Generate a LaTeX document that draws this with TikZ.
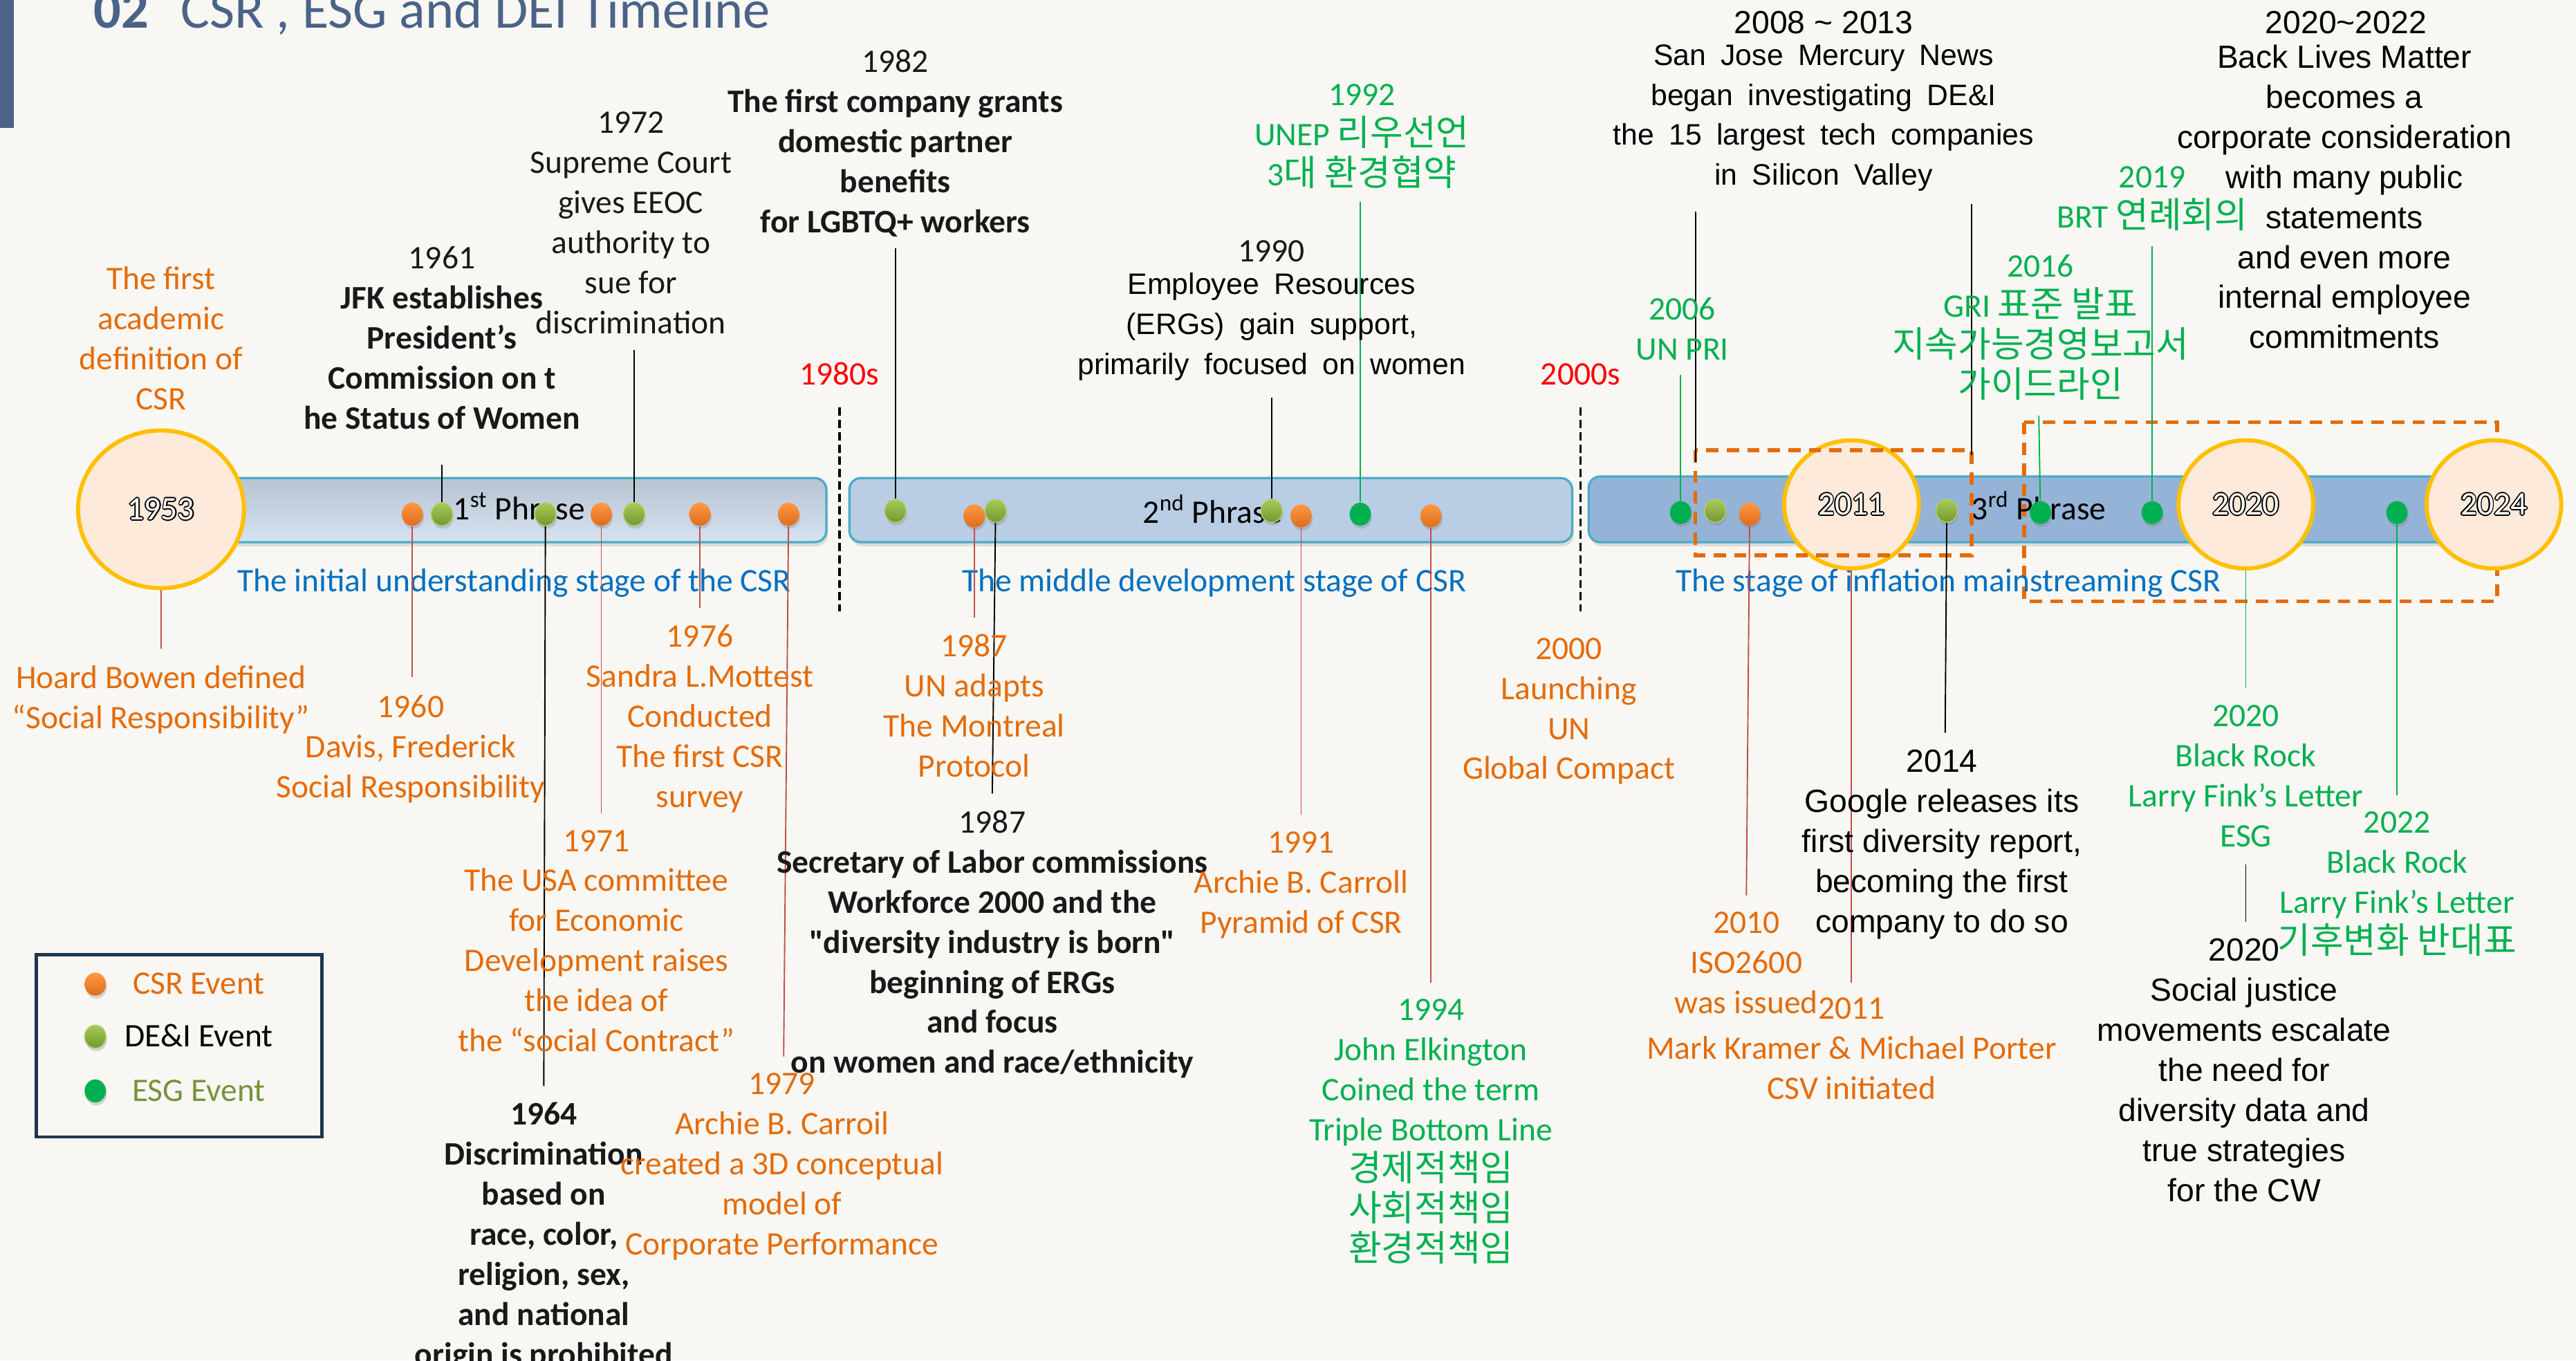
\documentclass[tikz,border=0pt]{standalone}
\usepackage{fontspec}
\setmainfont{Carlito}
\newfontfamily\arialf{Liberation Sans}
\newfontfamily\krf[Scale=1.09]{Noto Sans CJK KR}
\usetikzlibrary{shapes.geometric,shadows}

\definecolor{bgc}{RGB}{248,247,243}
\definecolor{titc}{RGB}{74,99,135}
\definecolor{orgT}{RGB}{228,108,10}
\definecolor{grnT}{RGB}{0,176,80}
\definecolor{bluT}{RGB}{0,112,192}
\definecolor{redT}{RGB}{255,0,0}
\definecolor{redL}{RGB}{192,80,77}
\definecolor{tealB}{RGB}{75,172,198}
\definecolor{goldc}{RGB}{255,192,0}
\definecolor{peach}{RGB}{253,234,218}
\definecolor{oliveT}{RGB}{119,147,60}
\definecolor{navyB}{RGB}{31,53,80}
\definecolor{txtk}{RGB}{25,25,25}
\definecolor{dotOa}{RGB}{255,153,64}
\definecolor{dotOb}{RGB}{222,108,30}
\definecolor{dotGa}{RGB}{166,204,84}
\definecolor{dotGb}{RGB}{116,150,52}
\definecolor{dotGc}{RGB}{176,208,110}
\definecolor{barAa}{RGB}{184,195,210}
\definecolor{barAb}{RGB}{214,226,240}
\definecolor{barB}{RGB}{185,205,229}
\definecolor{barC}{RGB}{149,179,215}

\newcommand\fs{\fontsize{20}{24.4}\selectfont}
\newcommand\fsa{\fontsize{18}{24.3}\selectfont}
\newcommand\fsb{\fontsize{19.5}{24.4}\selectfont}
\newcommand\kor[1]{{\krf #1}}
\newcommand\yeartext[2]{%
  \foreach \ang in {0,45,...,315}{\node[font=\fs, text=black, inner sep=0pt] (#1o\ang) at ([shift={(\ang:0.75pt)}]#1.center) {#2};}
  \node[font=\fs, text=white, inner sep=0pt] (#1t) at (#1.center) {#2};}

\tikzset{
  lbl/.style={align=center, inner sep=0pt, anchor=north, font=\fs, execute at begin node=\strut},
  ml/.style={lbl, yshift=-4pt},
  orgL/.style={ml, text=orgT},
  grnL/.style={ml, text=grnT},
  blkL/.style={ml, text=txtk},
  ariS/.style={lbl, text=black, font=\arialf\fsb},
  ariL/.style={ml, text=black, font=\arialf\fsb},
  ariW/.style={ml, text=black, font={\arialf\fsa\spaceskip=0.5em plus 0.1em\relax}},
  dotbase/.style={ellipse, minimum width=13pt, minimum height=14pt, inner sep=0pt,
    drop shadow={shadow xshift=0.6pt, shadow yshift=-1.8pt, opacity=0.3}},
  csrdot/.style={dotbase, top color=dotOa, bottom color=dotOb},
  deidot/.style={dotbase, top color=dotGa, bottom color=dotGb, draw=dotGc, line width=0.6pt},
  esgdot/.style={dotbase, fill=grnT},
  csrln/.style={line width=0.8pt, draw=redL},
  deiln/.style={line width=0.8pt, draw=black},
  esgln/.style={line width=0.8pt, draw=grnT},
  phasebar/.style={draw=tealB, line width=1.4pt, rounded corners=7pt,
    drop shadow={shadow xshift=1pt, shadow yshift=-2.5pt, opacity=0.22}},
  yearc/.style={ellipse, draw=goldc, line width=2.5pt, fill=peach, inner sep=0pt},
  odash/.style={draw=orgT, line width=2.3pt, dash pattern=on 7.5pt off 5pt},
  decade/.style={line width=1.3pt, dash pattern=on 5pt off 2.5pt},
}

\begin{document}
\begin{tikzpicture}[x=1pt, y=-1pt]
\useasboundingbox (0,0) rectangle (1568,828);
\fill[bgc] (0,0) rectangle (1568,828);

% title
\fill[titc] (0,0) rectangle (8.5,78);
\node[anchor=base west, inner sep=0pt, text=titc, font=\fontsize{33}{40}\selectfont\bfseries] (t02) at (57,17) {02};
\node[anchor=base west, inner sep=0pt, text=titc, font=\fontsize{33}{40}\selectfont] (ttl) at (110,17) {CSR , ESG and DEI Timeline};

% decade separators
\coordinate (k1a) at (511,248); \coordinate (k1b) at (511,372);
\coordinate (k2a) at (962,248); \coordinate (k2b) at (962,372);
\draw[decade] (k1a) -- (k1b);
\draw[decade] (k2a) -- (k2b);
\node[lbl, text=redT] (dec80) at (511,217) {1980s};
\node[lbl, text=redT] (dec00) at (962,217) {2000s};

% phase bars
\path[phasebar, top color=barAa, bottom color=barAb] (115,291) rectangle (503,330);
\path[phasebar, fill=barB] (517,291) rectangle (957,330);
\path[phasebar, fill=barC] (967,290) rectangle (1500,330);

% large dashed frame (behind circles)
\draw[odash] (1232,257) rectangle (1520,366);

% phase and stage labels
\node[lbl, text=black] (ph1) at (316,299) {1\textsuperscript{st} Phrase};
\node[lbl, text=black] (ph2) at (738,301) {2\textsuperscript{nd} Phrase};
\node[lbl, text=black] (ph3) at (1241,299) {3\textsuperscript{rd} Phrase};
\node[lbl, text=bluT] (st1) at (313,343) {The initial understanding stage of the CSR};
\node[lbl, text=bluT] (st2) at (739,343) {The middle development stage of CSR};
\node[lbl, text=bluT] (st3) at (1186,343) {The stage of inflation mainstreaming CSR};

% dots
\node[csrdot] (d1960) at (251,313) {};
\node[deidot] (d1961) at (269,313) {};
\node[deidot] (d1964) at (332,313) {};
\node[csrdot] (d1971) at (366,313) {};
\node[deidot] (d1972) at (386,313) {};
\node[csrdot] (d1976) at (426,313) {};
\node[csrdot] (d1979) at (480,313) {};
\node[deidot] (d1982) at (545,311) {};
\node[csrdot] (d1987a) at (593,314) {};
\node[deidot] (d1987b) at (606,311) {};
\node[deidot] (d1990) at (774,311) {};
\node[csrdot] (d1991) at (792,314) {};
\node[esgdot] (d1992) at (828,313) {};
\node[csrdot] (d1994) at (871,314) {};
\node[esgdot] (d2006) at (1023,312) {};
\node[deidot] (d2008) at (1044,311) {};
\node[csrdot] (d2010) at (1065,313) {};
\node[deidot] (d2014) at (1185,311) {};
\node[esgdot] (d2016) at (1242,312) {};
\node[esgdot] (d2019) at (1310,312) {};
\node[esgdot] (d2022) at (1459,312) {};

% year circles
\node[yearc, minimum width=101pt, minimum height=96pt] (c1953) at (98,310) {};
\node[yearc, minimum width=82pt, minimum height=78pt] (c2011) at (1127,307) {};
\node[yearc, minimum width=82pt, minimum height=78pt] (c2020) at (1367,307) {};
\node[yearc, minimum width=82pt, minimum height=78pt] (c2024) at (1518,307) {};
\yeartext{c1953}{1953}
\yeartext{c2011}{2011}
\yeartext{c2020}{2020}
\yeartext{c2024}{2024}

% small dashed frame (over circle)
\draw[odash] (1032,274) rectangle (1200,338);

% connector end points
\coordinate (e1953) at (98,395);
\coordinate (e1960) at (251,412);
\coordinate (e1961) at (269,283);
\coordinate (e1964) at (331,661);
\coordinate (e1971) at (366,495);
\coordinate (e1972) at (386,213);
\coordinate (e1976) at (426,370);
\coordinate (e1979) at (477,643);
\coordinate (e1982) at (545,151);
\coordinate (e1987a) at (593,376);
\coordinate (e1987b) at (604,483);
\coordinate (e1990) at (774,242);
\coordinate (e1991) at (792,496);
\coordinate (e1992) at (828,123);
\coordinate (e1994) at (871,598);
\coordinate (e2006) at (1023,228);
\coordinate (s2008a) at (1032,129); \coordinate (s2008b) at (1032,281);
\coordinate (s2020a) at (1200,124); \coordinate (s2020b) at (1200,277);
\coordinate (e2010) at (1063,545);
\coordinate (e2011) at (1127,598);
\coordinate (e2014) at (1184,446);
\coordinate (e2016) at (1241,253);
\coordinate (e2019) at (1310,150);
\coordinate (e2020) at (1367,419);
\coordinate (s2020c) at (1367,526); \coordinate (s2020d) at (1367,561);
\coordinate (e2022) at (1459,484);

% connectors
\draw[csrln] (c1953.south) -- (e1953);
\draw[csrln] (d1960) -- (e1960);
\draw[deiln] (d1961) -- (e1961);
\draw[deiln] (d1964) -- (e1964);
\draw[csrln] (d1971) -- (e1971);
\draw[deiln] (d1972) -- (e1972);
\draw[csrln] (d1976) -- (e1976);
\draw[csrln] (d1979) -- (e1979);
\draw[deiln] (d1982) -- (e1982);
\draw[csrln] (d1987a) -- (e1987a);
\draw[deiln] (d1987b) -- (e1987b);
\draw[deiln] (d1990) -- (e1990);
\draw[csrln] (d1991) -- (e1991);
\draw[esgln] (d1992) -- (e1992);
\draw[csrln] (d1994) -- (e1994);
\draw[esgln] (d2006) -- (e2006);
\draw[deiln] (s2008a) -- (s2008b);
\draw[deiln] (s2020a) -- (s2020b);
\draw[csrln] (d2010) -- (e2010);
\draw[csrln] (c2011.south) -- (e2011);
\draw[deiln] (d2014) -- (e2014);
\draw[esgln] (d2016) -- (e2016);
\draw[esgln] (d2019) -- (e2019);
\draw[esgln] (c2020.south) -- (e2020);
\draw[deiln] (s2020c) -- (s2020d);
\draw[esgln] (d2022) -- (e2022);

% labels above
\node[orgL] (l1953a) at (98,158) {The first\\academic\\definition of\\CSR};
\node[blkL] (l1961) at (269,146) {1961\\\textbf{JFK establishes}\\\textbf{President’s}\\\textbf{Commission on t}\\\textbf{he Status of Women}};
\node[blkL] (l1972) at (384,64) {1972\\Supreme Court\\gives EEOC\\authority to\\sue for\\discrimination};
\node[blkL] (l1982) at (545,26) {1982\\\textbf{The first company grants}\\\textbf{domestic partner}\\\textbf{benefits}\\\textbf{for LGBTQ+ workers}};
\node[lbl, text=txtk] (l1990y) at (774,142) {1990};
\node[ariW] (l1990) at (774,162) {Employee Resources\\(ERGs) gain support,\\primarily focused on women};
\node[grnL] (l1992) at (829,47) {1992\\UNEP \kor{리우선언}\\3\kor{대 환경협약}};
\node[grnL] (l2006) at (1024,177) {2006\\UN PRI};
\node[ariS] (l2008y) at (1110,3) {2008 \textasciitilde{} 2013};
\node[ariW] (l2008) at (1110,23) {San Jose Mercury News\\began investigating DE\&I\\the 15 largest tech companies\\in Silicon Valley};
\node[grnL] (l2016) at (1242,151) {2016\\GRI \kor{표준 발표}\\\kor{지속가능경영보고서}\\\kor{가이드라인}};
\node[grnL] (l2019) at (1310,97) {2019\\BRT \kor{연례회의}};
\node[ariS] (l2020y) at (1428,3) {2020\textasciitilde 2022};
\node[ariL] (l2020a) at (1427,23) {Back Lives Matter\\becomes a\\corporate consideration\\with many public\\statements\\and even more\\internal employee\\commitments};

% labels below
\node[orgL] (l1953) at (98,401) {Hoard Bowen defined\\“Social Responsibility”};
\node[orgL] (l1960) at (250,419) {1960\\Davis, Frederick\\Social Responsibility};
\node[blkL] (l1964) at (331,667) {\textbf{1964}\\\textbf{Discrimination}\\\textbf{based on}\\\textbf{race, color,}\\\textbf{religion, sex,}\\\textbf{and national}\\\textbf{origin is prohibited}};
\node[orgL] (l1971) at (363,501) {1971\\The USA committee\\for Economic\\Development raises\\the idea of\\the “social Contract”};
\node[orgL] (l1976) at (426,376) {1976\\Sandra L.Mottest\\Conducted\\The first CSR\\survey};
\node[orgL] (l1979) at (476,649) {1979\\Archie B. Carroil\\created a 3D conceptual\\model of\\Corporate Performance};
\node[orgL] (l1987a) at (593,382) {1987\\UN adapts\\The Montreal\\Protocol};
\node[blkL] (l1987b) at (604,489) {1987\\\textbf{Secretary of Labor commissions}\\\textbf{Workforce 2000 and the}\\\textbf{\textquotedbl diversity industry is born\textquotedbl}\\\textbf{beginning of ERGs}\\\textbf{and focus}\\\textbf{on women and race/ethnicity}};
\node[orgL] (l1991) at (792,502) {1991\\Archie B. Carroll\\Pyramid of CSR};
\node[grnL] (l1994) at (871,604) {1994\\John Elkington\\Coined the term\\Triple Bottom Line\\\kor{경제적책임}\\\kor{사회적책임}\\\kor{환경적책임}};
\node[orgL] (l2000) at (955,384) {2000\\Launching\\UN\\Global Compact};
\node[orgL] (l2010) at (1063,551) {2010\\ISO2600\\was issued};
\node[orgL] (l2011) at (1127,603) {2011\\Mark Kramer \& Michael Porter\\CSV initiated};
\node[ariL] (l2014) at (1182,452) {2014\\Google releases its\\first diversity report,\\becoming the first\\company to do so};
\node[grnL] (l2020) at (1367,425) {2020\\Black Rock\\Larry Fink’s Letter\\ESG};
\node[grnL] (l2022) at (1459,490) {2022\\Black Rock\\Larry Fink’s Letter\\\kor{기후변화 반대표}};
\node[ariL] (l2020b) at (1366,567) {2020\\Social justice\\movements escalate\\the need for\\diversity data and\\true strategies\\for the CW};

% legend
\node[draw=navyB, line width=2pt, minimum width=174pt, minimum height=111pt, inner sep=0pt] (legend) at (109,636.5) {};
\node[csrdot] (lg1) at (58,599) {};
\node[deidot] (lg2) at (58,631) {};
\node[esgdot] (lg3) at (58,664) {};
\node[lbl, text=orgT] (lgt1) at (121,588) {CSR Event};
\node[lbl, text=black] (lgt2) at (121,620) {DE\&I Event};
\node[lbl, text=oliveT] (lgt3) at (121,653) {ESG Event};
\end{tikzpicture}
\end{document}
